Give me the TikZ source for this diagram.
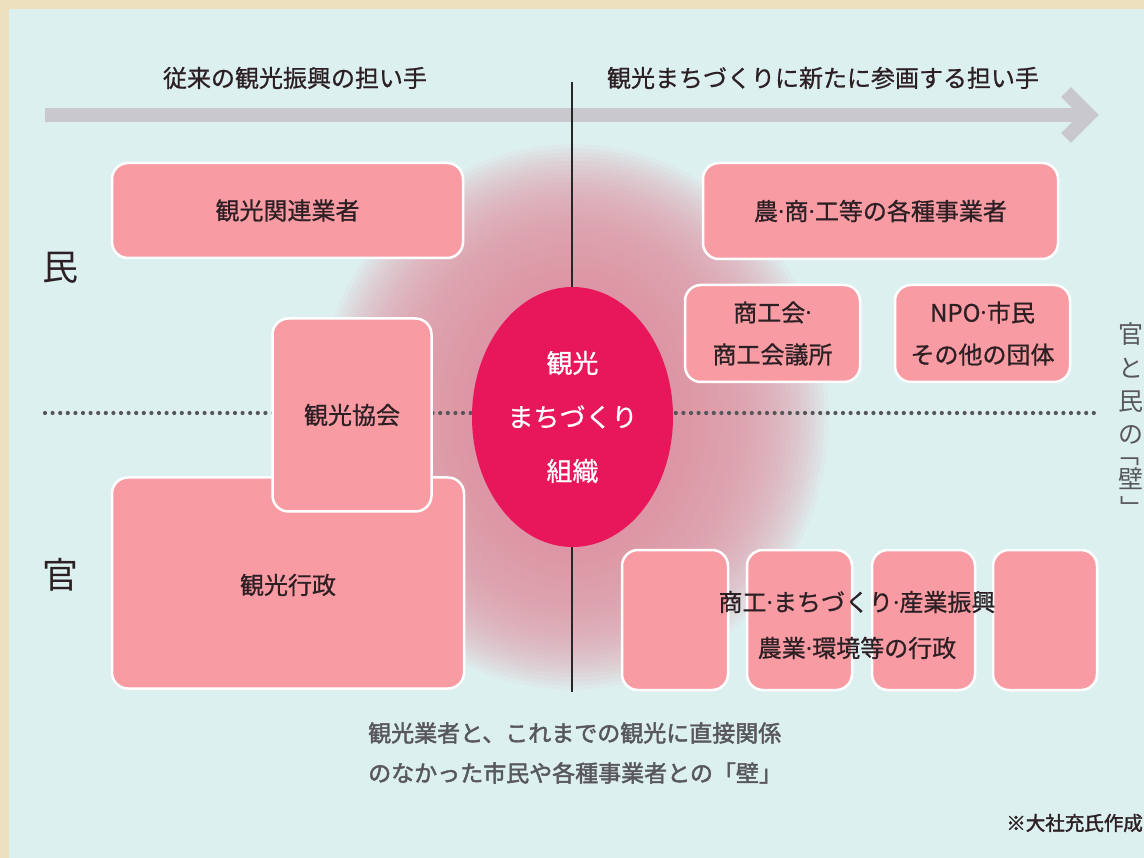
\documentclass[tikz,border=0pt]{standalone}
\usepackage{fontspec}
\setmainfont{Noto Sans CJK JP}
\newfontfamily\jpm[FakeBold=0.8]{Noto Sans CJK JP}
\newfontfamily\jpbold[FakeBold=2]{Noto Sans CJK JP}
\newfontfamily\latn{Noto Sans}
\newcommand{\mdot}{{\latn ·}}
\usetikzlibrary{shapes.geometric}
\definecolor{beige}{RGB}{236,224,190}
\definecolor{panelc}{RGB}{221,240,240}
\definecolor{glowc}{RGB}{222,150,165}
\definecolor{pinkc}{RGB}{249,155,163}
\definecolor{circc}{RGB}{232,22,90}
\definecolor{arrowc}{RGB}{201,201,205}
\definecolor{dotc}{RGB}{85,85,90}
\definecolor{txtc}{RGB}{45,32,36}
\definecolor{grayt}{RGB}{88,88,92}
\tikzset{
  pbox/.style={draw=white, line width=2.5pt, fill=pinkc, rounded corners=16pt, inner sep=0pt, text=txtc, font=\jpm\fontsize{24}{36}\selectfont, align=center},
  ttl/.style={text=txtc, font=\jpm\fontsize{24}{30}\selectfont, inner sep=0pt},
  side/.style={text=txtc, font=\fontsize{36}{40}\selectfont, inner sep=0pt},
  vch/.style={text=grayt, font=\fontsize{25}{30}\selectfont, inner sep=0pt},
  dotline/.style={line width=4.2pt, dotc, line cap=round, dash pattern=on 0pt off 7.6pt},
}
\begin{document}
\begin{tikzpicture}[x=1pt,y=-1pt]
\useasboundingbox (0,0) rectangle (1144,858);
\fill[beige] (0,0) rectangle (1144,858);
\fill[panelc] (9,9) rectangle (1144,858);
\begin{scope}
\clip (9,9) rectangle (1144,858);
\foreach \r in {0,...,34} {
  \fill[glowc, opacity=0.075] (572.5,417) ellipse [x radius={100+\r*4.6}, y radius={130+\r*4.2}];
}
\end{scope}

% coordinates
\coordinate (dL) at (45,413);
\coordinate (dR) at (1100,413);
\coordinate (aL) at (45,115);
\coordinate (aR) at (1084,115);
\coordinate (aT) at (1089,115);
\coordinate (aU) at (1066,92);
\coordinate (aD) at (1066,138);
\coordinate (vT) at (572,82);
\coordinate (vB) at (572,692);

% dotted wall line
\draw[dotline] (dL) -- (dR);
% arrow
\draw[arrowc, line width=14pt] (aL) -- (aR);
\draw[arrowc, line width=14pt, line join=miter, line cap=butt] (aU) -- (aT) -- (aD);
% vertical line
\draw[line width=2pt, black!85] (vT) -- (vB);

% titles
\node[ttl] (t1) at (295,78) {従来の観光振興の担い手};
\node[ttl] (t2) at (823,78) {観光まちづくりに新たに参画する担い手};

% side labels
\node[side] (min) at (60,268) {民};
\node[side] (kan) at (60,575) {官};

% left boxes
\node[pbox, minimum width=351pt, minimum height=95pt] (kanren) at (287.5,210.5) {観光関連業者};
\node[pbox, minimum width=352pt, minimum height=211pt] (gyosei) at (288,583) {};
\node[pbox, minimum width=159pt, minimum height=193pt] (kyokai) at (352,415) {観光協会};
\node[text=txtc, font=\jpm\fontsize{24}{36}\selectfont, inner sep=0pt] (gyoseit) at (288,585) {観光行政};

% right boxes
\node[pbox, minimum width=355pt, minimum height=96pt] (nosho) at (880.5,211) {農\mdot 商\mdot 工等の各種事業者};
\node[pbox, minimum width=175pt, minimum height=97pt, font=\jpm\fontsize{24}{42}\selectfont] (shokokai) at (772.5,333.5) {商工会\mdot\\商工会議所};
\node[pbox, minimum width=175pt, minimum height=97pt, font=\jpm\fontsize{24}{42}\selectfont] (npo) at (982.5,333.5) {NPO\mdot 市民\\その他の団体};

\node[pbox, minimum width=106pt, minimum height=140pt] (g1) at (675,620) {};
\node[pbox, minimum width=105pt, minimum height=140pt] (g2) at (799.5,620) {};
\node[pbox, minimum width=103pt, minimum height=140pt] (g3) at (923.5,620) {};
\node[pbox, minimum width=104pt, minimum height=140pt] (g4) at (1045,620) {};
\node[text=txtc, font=\jpm\fontsize{24}{46}\selectfont, align=center, inner sep=0pt] (gt) at (857,625) {商工\mdot まちづくり\mdot 産業振興\\農業\mdot 環境等の行政};

% central organisation
\node[ellipse, fill=circc, draw=none, minimum width=201pt, minimum height=260pt, inner sep=0pt, text=white, align=center, font=\jpm\fontsize{26}{54}\selectfont] (org) at (572.5,417) {観光\\まちづくり\\組織};

% right vertical label
\node[vch] (v1) at (1131,334) {官};
\node[vch] (v2) at (1131,368) {と};
\node[vch] (v3) at (1131,402) {民};
\node[vch] (v4) at (1131,435) {の};
\node[vch] (v5) at (1127,462) {﹁};
\node[vch] (v6) at (1131,479) {壁};
\node[vch] (v7) at (1133,507) {﹂};

% bottom note
\node[text=grayt, anchor=west, align=left, inner sep=0pt, font=\jpbold\fontsize{23}{40}\selectfont] (note) at (368,753) {観光業者と、これまでの観光に直接関係\\のなかった市民や各種事業者との「壁」};
\node[text=txtc, anchor=east, inner sep=0pt, font=\jpbold\fontsize{19.5}{24}\selectfont] (credit) at (1143,823) {※大社充氏作成};
\end{tikzpicture}
\end{document}
